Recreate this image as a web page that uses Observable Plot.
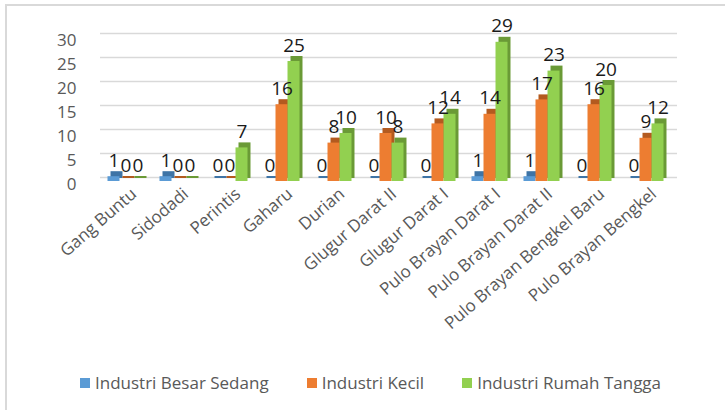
<!DOCTYPE html>
<html>
<head>
<meta charset="utf-8">
<script src="https://cdn.jsdelivr.net/npm/d3@7"></script>
<script src="https://cdn.jsdelivr.net/npm/@observablehq/plot@0.6"></script>
<style>
  body { margin: 0; background: #fff; }
  #wrap { position: relative; width: 725px; height: 410px; overflow: hidden; font-family: "Open Sans", sans-serif; }
  #frame { position: absolute; left: 5px; top: 4px; width: 740px; height: 440px; border-top: 2px solid #d9d9d9; border-left: 2px solid #d9d9d9; }
  #chart { position: absolute; left: 0; top: 0; }
  #legend { position: absolute; top: 371px; left: 80px; display: flex; gap: 38px; font-size: 17px; color: #595959; white-space: nowrap; }
  .item { display: flex; align-items: center; gap: 5px; }
  .sw { width: 10px; height: 10px; display: inline-block; }
</style>
</head>
<body>
<div id="wrap">
  <div id="frame"></div>
  <div id="chart"></div>
  <div id="legend"></div>
</div>
<script>
const categories = ["Gang Buntu", "Sidodadi", "Perintis", "Gaharu", "Durian", "Glugur Darat II", "Glugur Darat I", "Pulo Brayan Darat I", "Pulo Brayan Darat II", "Pulo Brayan Bengkel Baru", "Pulo Brayan Bengkel"];
const seriesNames = ["Industri Besar Sedang", "Industri Kecil", "Industri Rumah Tangga"];
const besarSedang = [1, 1, 0, 0, 0, 0, 0, 1, 1, 0, 0];
const kecil = [0, 0, 0, 16, 8, 10, 12, 14, 17, 16, 9];
const rumahTangga = [0, 0, 7, 25, 10, 8, 14, 29, 23, 20, 12];
const yTicks = [0, 5, 10, 15, 20, 25, 30];
const colors = ["#5B9BD5", "#ED7D31", "#92D050"];
const darkColors = ["#3E74A6", "#B35A1F", "#6A9A36"];

const seriesValues = [besarSedang, kecil, rumahTangga];
const rows = seriesValues.map((vals, s) =>
  categories.map((c, i) => ({category: c, series: seriesNames[s], value: vals[i]})));

const W = 725, H = 360;
const mL = 97, mR = 51, mT = 37, mB = 179;
const pInner = 0.257, pOuter = 0.124;
const step = (W - mL - mR) / (categories.length - pInner + 2 * pOuter);
const bw = step * (1 - pInner);
const barW = 12;
const inset = (bw - barW) / 2;
const offsets = [-barW, 0, barW];
const depth = 3;

const marks = [
  Plot.ruleY(yTicks, {stroke: "#d9d9d9", strokeWidth: 1.5, dx: depth, dy: -4})
];
rows.forEach((data, s) => {
  marks.push(Plot.barY(data, {x: "category", y: "value", fill: darkColors[s],
    insetLeft: inset, insetRight: inset, insetTop: -2, dx: offsets[s] + depth, dy: -depth}));
  marks.push(Plot.barY(data, {x: "category", y: "value", fill: colors[s],
    insetLeft: inset, insetRight: inset, dx: offsets[s]}));
});
rows.forEach((data, s) => {
  marks.push(Plot.text(data, {x: "category", y: "value", text: d => String(d.value),
    dx: offsets[s], dy: -10, lineAnchor: "bottom", fontSize: 19, fill: "#1a1a1a"}));
});
marks.push(Plot.axisY({ticks: yTicks, tickSize: 0, tickPadding: 21, fontSize: 17, dy: 3}));
marks.push(Plot.axisX({tickSize: 0, tickPadding: 10, tickRotate: -41, fontSize: 17, dx: 8}));

const chart = Plot.plot({
  width: W, height: H,
  marginLeft: mL, marginRight: mR, marginTop: mT, marginBottom: mB,
  style: {fontFamily: "'Open Sans', sans-serif", color: "#595959", background: "transparent"},
  x: {domain: categories, paddingInner: pInner, paddingOuter: pOuter, label: null},
  y: {domain: [0, 30], label: null},
  marks
});
document.getElementById("chart").appendChild(chart);

const legend = document.getElementById("legend");
seriesNames.forEach((name, s) => {
  const it = document.createElement("div");
  it.className = "item";
  const sw = document.createElement("span");
  sw.className = "sw";
  sw.style.background = colors[s];
  const t = document.createElement("span");
  t.textContent = name;
  it.appendChild(sw); it.appendChild(t);
  legend.appendChild(it);
});
</script>
</body>
</html>
